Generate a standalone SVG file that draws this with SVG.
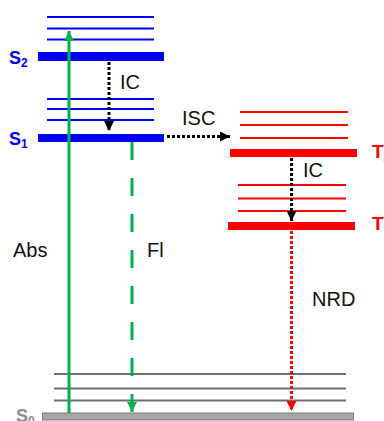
<svg xmlns="http://www.w3.org/2000/svg" width="384" height="421" viewBox="0 0 384 421">
  <defs>
    <style>
      .lbl { font-family: "Liberation Sans", Arial, sans-serif; font-size: 20px; fill: #111; }
      .st { font-family: "Liberation Sans", Arial, sans-serif; font-weight: bold; font-size: 18px; }
      .tt { font-size: 19px; }
      .sub { font-size: 12px; }
      .s-sub { stroke: #0000f0; stroke-width: 2; }
      .s-bar { fill: #0000f0; }
      .t-sub { stroke: #ff0000; stroke-width: 2; }
      .t-bar { fill: #ff0000; }
      .g-sub { stroke: #6e6e6e; stroke-width: 2; }
      .abs { stroke: #00b050; stroke-width: 3; fill: none; }
      .fl { stroke: #00b050; stroke-width: 3; fill: none; stroke-dasharray: 18 18; }
      .ic { stroke: #000; stroke-width: 3; fill: none; stroke-dasharray: 3 2; }
      .nrd { stroke: #ff0000; stroke-width: 3; fill: none; stroke-dasharray: 3 2; }
    </style>
    <marker id="ah-green" viewBox="0 0 10 10" refX="10" refY="5" markerWidth="10" markerHeight="10" markerUnits="userSpaceOnUse" orient="auto">
      <path d="M0,0 L10,5 L0,10 Z" fill="#00b050"/>
    </marker>
    <marker id="ah-black" viewBox="0 0 10 10" refX="10" refY="5" markerWidth="10" markerHeight="10" markerUnits="userSpaceOnUse" orient="auto">
      <path d="M0,0 L10,5 L0,10 Z" fill="#000"/>
    </marker>
    <marker id="ah-red" viewBox="0 0 10 10" refX="10" refY="5" markerWidth="10" markerHeight="10" markerUnits="userSpaceOnUse" orient="auto">
      <path d="M0,0 L10,5 L0,10 Z" fill="#ff0000"/>
    </marker>
  </defs>

  <rect width="384" height="421" fill="#fff"/>

  <!-- Singlet S2 with vibrational sublevels -->
  <g id="S2">
    <line class="s-sub" x1="47" y1="17" x2="154" y2="17"/>
    <line class="s-sub" x1="47" y1="28.5" x2="154" y2="28.5"/>
    <line class="s-sub" x1="47" y1="39.5" x2="154" y2="39.5"/>
    <rect class="s-bar" x="38" y="52" width="126" height="9"/>
    <text class="st" x="9" y="64" fill="#0000f0">S<tspan class="sub" dy="3">2</tspan></text>
  </g>

  <!-- Singlet S1 -->
  <g id="S1">
    <line class="s-sub" x1="47" y1="99" x2="154" y2="99"/>
    <line class="s-sub" x1="47" y1="109" x2="154" y2="109"/>
    <line class="s-sub" x1="47" y1="120" x2="154" y2="120"/>
    <rect class="s-bar" x="38" y="134" width="126" height="8"/>
    <text class="st" x="9" y="145" fill="#0000f0">S<tspan class="sub" dy="3">1</tspan></text>
  </g>

  <!-- Triplet T2 -->
  <g id="T2">
    <line class="t-sub" x1="240" y1="112" x2="348" y2="112"/>
    <line class="t-sub" x1="240" y1="125" x2="348" y2="125"/>
    <line class="t-sub" x1="240" y1="138" x2="348" y2="138"/>
    <rect class="t-bar" x="230" y="149" width="127" height="8"/>
    <text class="st tt" x="372" y="158" fill="#ff0000">T<tspan class="sub" dy="3">2</tspan></text>
  </g>

  <!-- Triplet T1 -->
  <g id="T1">
    <line class="t-sub" x1="238" y1="185" x2="346" y2="185"/>
    <line class="t-sub" x1="238" y1="198.5" x2="346" y2="198.5"/>
    <line class="t-sub" x1="238" y1="211" x2="346" y2="211"/>
    <rect class="t-bar" x="228" y="222" width="127" height="8"/>
    <text class="st tt" x="372" y="230" fill="#ff0000">T<tspan class="sub" dy="3">1</tspan></text>
  </g>

  <!-- Ground state S0 -->
  <g id="S0">
    <line class="g-sub" x1="54" y1="374" x2="346" y2="374"/>
    <line class="g-sub" x1="54" y1="388.5" x2="346" y2="388.5"/>
    <line class="g-sub" x1="54" y1="400.5" x2="346" y2="400.5"/>
    <rect x="42.5" y="413" width="311" height="7" fill="#a6a6a6" stroke="#7a7a7a" stroke-width="1"/>
    <text class="st" x="16" y="422" fill="#8c8c8c">S<tspan class="sub" dy="3">0</tspan></text>
  </g>

  <!-- Transitions -->
  <g id="connectors">
    <line class="abs" x1="69" y1="413" x2="69" y2="31" marker-end="url(#ah-green)"/>
    <line class="fl" x1="132" y1="142" x2="132" y2="412" marker-end="url(#ah-green)"/>
    <line class="ic" x1="109" y1="62" x2="109" y2="131" marker-end="url(#ah-black)"/>
    <line class="ic" x1="167" y1="136.5" x2="230" y2="136.5" marker-end="url(#ah-black)"/>
    <line class="ic" x1="291.5" y1="158" x2="291.5" y2="221" marker-end="url(#ah-black)"/>
    <line class="nrd" x1="291.5" y1="231" x2="291.5" y2="411" marker-end="url(#ah-red)"/>
  </g>

  <!-- Process labels -->
  <g id="labels">
    <text class="lbl" x="120" y="89">IC</text>
    <text class="lbl" x="182" y="125">ISC</text>
    <text class="lbl" x="303" y="177">IC</text>
    <text class="lbl" x="13" y="257">Abs</text>
    <text class="lbl" x="147" y="257">Fl</text>
    <text class="lbl" x="312" y="306">NRD</text>
  </g>
</svg>
